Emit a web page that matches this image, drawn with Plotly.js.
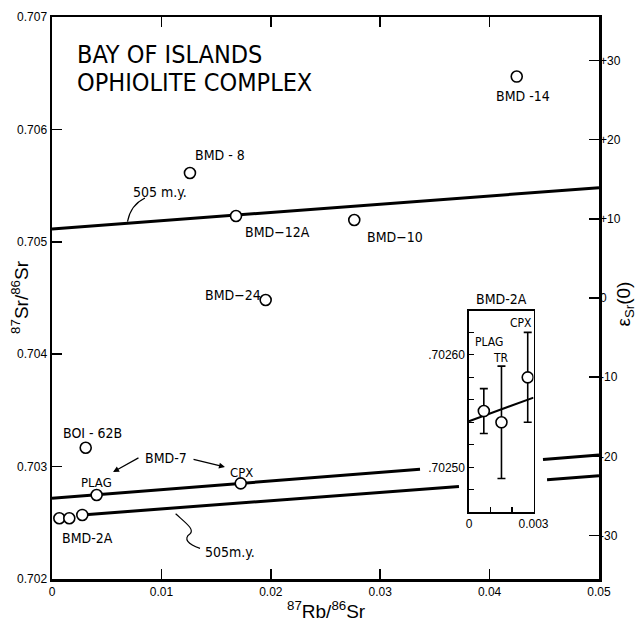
<!DOCTYPE html>
<html><head><meta charset="utf-8">
<script src="https://cdn.plot.ly/plotly-3.0.1.min.js"></script>
<style>body{margin:0;background:#fff}#chart{width:643px;height:626px}</style>
</head><body><div id="chart"></div>
<script>
const FONT = '"Liberation Sans Narrow", "DejaVu Sans Condensed", "Liberation Sans", sans-serif';
const TFONT = '"Liberation Sans", "DejaVu Sans", sans-serif';

// Whole-rock / mineral samples (87Rb/86Sr, 87Sr/86Sr)
const sampleNames = ['BMD-8','BMD-12A','BMD-24','BMD-14','BMD-10','BOI-62B','BMD-7 PLAG','BMD-7 CPX','BMD-2A PLAG','BMD-2A TR','BMD-2A CPX'];
const rbSr = [0.01261, 0.01682, 0.01953, 0.04248, 0.02763, 0.00308, 0.00408, 0.01725, 0.00067, 0.00158, 0.00277];
const srSr = [0.705612, 0.705230, 0.704482, 0.706470, 0.705194, 0.703168, 0.702747, 0.702851, 0.702540, 0.702540, 0.702570];

// 505 m.y. reference isochrons
const isoUpperX = [0, 0.05];
const isoUpperY = [0.705114, 0.705481];
const isoBMD7X = [0, 0.03364, null, 0.04488, 0.05];
const isoBMD7Y = [0.702718, 0.702977, null, 0.703064, 0.703103];
const isoLowerX = [0.00274, 0.0372, null, 0.04525, 0.05];
const isoLowerY = [0.702570, 0.702824, null, 0.702884, 0.702919];

// Inset BMD-2A
const insetPhases = ['PLAG', 'TR', 'CPX'];
const insetRbSr = [0.00069, 0.00151, 0.00273];
const insetSrSr = [0.702550, 0.702540, 0.702580];
const insetErr = [0.00002, 0.00005, 0.00004];
const insetLineX = [0, 0.003];
const insetLineY = [0.702541, 0.702562];

// Axes
const xTicks = [0, 0.01, 0.02, 0.03, 0.04, 0.05];
const xTickText = ['0', '0.01', '0.02', '0.03', '0.04', '0.05'];
const yTicks = [0.702, 0.703, 0.704, 0.705, 0.706, 0.707];
const yTickText = ['0.702', '0.703', '0.704', '0.705', '0.706', '0.707'];
const epsTicks = [-30, -20, -10, 0, 10, 20, 30];
const epsTickText = ['-30', '-20', '-10', '0', '+10', '+20', '+30'];
const insetXTicks = [0, 0.003];
const insetXTickText = ['0', '0.003'];
const insetYTicks = [0.70250, 0.70260];
const insetYTickText = ['.70250', '.70260'];

const BULK = 0.7045;
const yRange = [0.702, 0.707];
const epsRange = yRange.map(v => (v / BULK - 1) * 1e4);

const traces = [
  {x: isoUpperX, y: isoUpperY, mode: 'lines', line: {color: '#000', width: 3}, xaxis: 'x', yaxis: 'y', hoverinfo: 'skip'},
  {x: isoBMD7X, y: isoBMD7Y, mode: 'lines', line: {color: '#000', width: 3}, connectgaps: false, xaxis: 'x', yaxis: 'y', hoverinfo: 'skip'},
  {x: isoLowerX, y: isoLowerY, mode: 'lines', line: {color: '#000', width: 3}, connectgaps: false, xaxis: 'x', yaxis: 'y', hoverinfo: 'skip'},
  {x: rbSr, y: srSr, text: sampleNames, mode: 'markers', xaxis: 'x', yaxis: 'y',
   marker: {symbol: 'circle', size: 11, color: '#fff', line: {color: '#000', width: 1.6}}},
  {x: [0.025], y: [0], mode: 'markers', marker: {opacity: 0}, xaxis: 'x', yaxis: 'y2', hoverinfo: 'skip'},
  {x: insetLineX, y: insetLineY, mode: 'lines', line: {color: '#000', width: 2}, xaxis: 'x3', yaxis: 'y3', hoverinfo: 'skip'},
  {x: insetRbSr, y: insetSrSr, text: insetPhases, mode: 'markers', xaxis: 'x3', yaxis: 'y3',
   error_y: {type: 'data', array: insetErr, visible: true, color: '#000', thickness: 1.6, width: 4},
   marker: {symbol: 'circle', size: 11, color: '#fff', line: {color: '#000', width: 1.6}}}
];

function ann(text, x, y, size, extra) {
  return Object.assign({text: text, x: x, y: y, xref: 'x', yref: 'y', showarrow: false,
    font: {family: FONT, size: size || 14, color: '#000'}}, extra || {});
}
function arrow(x, y, ax, ay) {
  return {text: '', x: x, y: y, ax: ax, ay: ay, xref: 'x', yref: 'y', axref: 'x', ayref: 'y',
    showarrow: true, arrowhead: 2, arrowsize: 1, arrowwidth: 1.2, arrowcolor: '#000'};
}
function insetAnn(text, x, y) {
  return {text: text, x: x, y: y, xref: 'x3', yref: 'y3', showarrow: false,
    font: {family: FONT, size: 12, color: '#000'}};
}
function paperAnn(text, x, y, angle) {
  return {text: text, x: x, y: y, xref: 'paper', yref: 'paper', xanchor: 'center', yanchor: 'middle',
    showarrow: false, textangle: angle, font: {family: TFONT, size: 19, color: '#000'}};
}

const annotations = [
  ann('BAY OF ISLANDS', 0.0021, 0.706662, 25, {xanchor: 'left'}),
  ann('OPHIOLITE COMPLEX', 0.0021, 0.706413, 25, {xanchor: 'left'}),
  ann('BMD - 8', 0.01536, 0.705772),
  ann('505 m.y.', 0.00987, 0.705443),
  ann('BMD−12A', 0.02057, 0.705087),
  ann('BMD−10', 0.03135, 0.705043),
  ann('BMD -14', 0.04305, 0.706297),
  ann('BMD−24', 0.01654, 0.704527),
  ann('BOI - 62B', 0.00366, 0.703299),
  ann('BMD-7', 0.01042, 0.703077),
  ann('PLAG', 0.00411, 0.702863, 13),
  ann('CPX', 0.01728, 0.702952, 13),
  ann('BMD-2A', 0.00329, 0.702365),
  ann('505m.y.', 0.01627, 0.702240),
  arrow(0.00558, 0.702952, 0.00804, 0.703085),
  arrow(0.01581, 0.702996, 0.0128, 0.703068),
  arrow(0.00686, 0.705167, 0.00700, 0.705190),
  arrow(0.01124, 0.702599, 0.01135, 0.702575),
  // inset labels
  {text: 'BMD-2A', x: 0.0015, y: 0.702639, xref: 'x3', yref: 'y3', yanchor: 'bottom', yshift: 2, showarrow: false,
   font: {family: FONT, size: 14, color: '#000'}},
  insetAnn('PLAG', 0.00092, 0.702611),
  insetAnn('TR', 0.00151, 0.702597),
  insetAnn('CPX', 0.00243, 0.702628),
  // axis titles
  paperAnn('<sup>87</sup>Sr/<sup>86</sup>Sr', -0.0585, 0.502, -90),
  paperAnn('ε<sub>Sr</sub>(0)', 1.0475, 0.49, -90),
  paperAnn('<sup>87</sup>Rb/<sup>86</sup>Sr', 0.501, -0.055, 0)
];

const shapes = [
  {type: 'path', xref: 'x', yref: 'y', path: 'M 0.0085,0.70539 Q 0.0072,0.70533 0.00690,0.70518', line: {color: '#000', width: 1.2}},
  {type: 'path', xref: 'x', yref: 'y',
   path: 'M 0.01353,0.702273 C 0.0124,0.70231 0.0120,0.70236 0.0126,0.70240 C 0.0131,0.70244 0.0122,0.70250 0.01130,0.702580',
   line: {color: '#000', width: 1.2}}
];

const axisCommon = {showgrid: false, zeroline: false, showline: true, linecolor: '#000', ticks: 'inside', tickcolor: '#000',
  tickfont: {family: TFONT, size: 12, color: '#000'}};

const layout = {
  width: 643, height: 626,
  margin: {l: 52, r: 44, t: 17, b: 47},
  paper_bgcolor: '#fff', plot_bgcolor: 'rgba(0,0,0,0)',
  showlegend: false,
  xaxis: Object.assign({}, axisCommon, {range: [0, 0.05], tickvals: xTicks, ticktext: xTickText, ticklen: 10, tickwidth: 1.5,
    linewidth: 2.5, mirror: 'ticks', domain: [0, 1], anchor: 'y'}),
  yaxis: Object.assign({}, axisCommon, {range: yRange, tickvals: yTicks, ticktext: yTickText, ticklen: 10, tickwidth: 1.5,
    linewidth: 2.5, mirror: true, domain: [0, 1], anchor: 'x'}),
  yaxis2: Object.assign({}, axisCommon, {range: epsRange, overlaying: 'y', side: 'right', anchor: 'x', tickvals: epsTicks, ticktext: epsTickText,
    ticklen: 10, tickwidth: 1.5, showline: false}),
  xaxis3: Object.assign({}, axisCommon, {range: [0, 0.003], domain: [0.7623, 0.8803], anchor: 'y3', tickvals: insetXTicks, ticktext: insetXTickText,
    ticklen: 5, tickwidth: 1.2, linewidth: 1.6, mirror: true,
    minor: {ticks: 'inside', dtick: 0.001, tick0: 0, ticklen: 5, tickwidth: 1.2, tickcolor: '#000', showgrid: false}}),
  yaxis3: Object.assign({}, axisCommon, {range: [0.70246, 0.702639], domain: [0.1187, 0.4769], anchor: 'x3', tickvals: insetYTicks, ticktext: insetYTickText,
    ticklen: 5, tickwidth: 1.2, linewidth: 1.6, mirror: true,
    minor: {ticks: 'inside', dtick: 0.00002, tick0: 0.7025, ticklen: 5, tickwidth: 1.2, tickcolor: '#000', showgrid: false}}),
  annotations: annotations,
  shapes: shapes
};

Plotly.newPlot('chart', traces, layout, {staticPlot: true, displayModeBar: false});
</script>
</body></html>
